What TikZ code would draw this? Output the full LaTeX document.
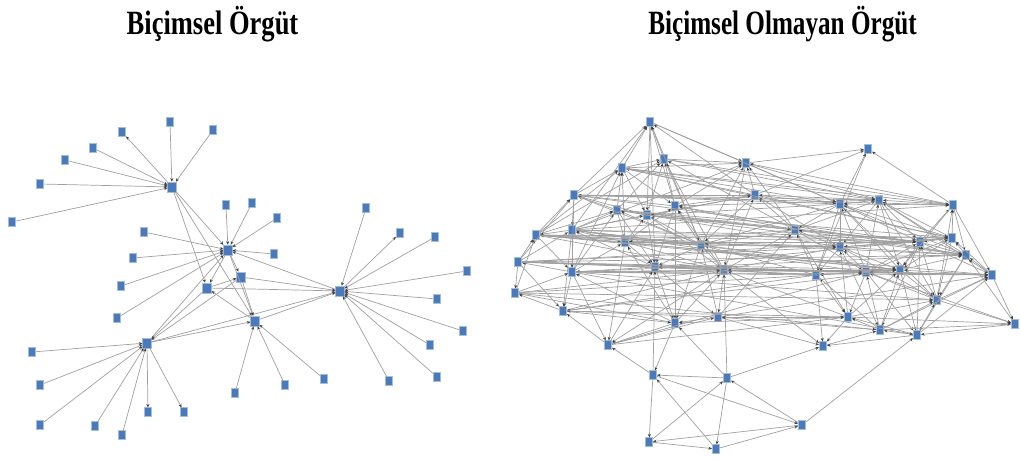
\documentclass[tikz,border=0pt]{standalone}
\usepackage{fontspec}
\setmainfont{Liberation Serif}
\usepackage{graphicx}
\usetikzlibrary{arrows.meta}
\definecolor{nodeblue}{RGB}{74,122,186}
\definecolor{edgegray}{RGB}{160,160,160}
\begin{document}
\begin{tikzpicture}[x=1pt,y=-1pt,
  nd/.style={rectangle, fill=nodeblue, draw=nodeblue!50!white, line width=0.6pt, minimum width=7.5pt, minimum height=8.5pt, inner sep=0pt},
  hub/.style={nd, minimum width=8.5pt, minimum height=10pt},
  edge/.style={draw=edgegray, line width=0.7pt, -{Stealth[length=3.5pt,width=3pt,color=black!75]}},
  ttl/.style={font=\fontsize{34}{38}\selectfont\bfseries, anchor=base, inner sep=0pt}]
\useasboundingbox (0,0) rectangle (1021,462);
% titles
\node[ttl] (t1) at (212.5,35) {\scalebox{0.78}[1]{Biçimsel Örgüt}};
\node[ttl] (t2) at (782.5,35) {\scalebox{0.74}[1]{Biçimsel Olmayan Örgüt}};
% ---------------- left graph ----------------
\foreach \n/\x/\y in {A/172/187,B/228/250,C/147/343,D/207/288,E/241/277,F/255/321,G/340/291}
  \node[hub] (\n) at (\x,\y) {};
\foreach \n/\x/\y in {a1/12/222,a2/40/184,a3/65/160,a4/93/148,a5/122/132,a6/170/122,a7/213/130,
  b1/226/205,b2/252/203,b3/277/218,b4/274/254,b5/144/232,b6/133/258,b7/121/286,b8/117/318,
  c1/32/352,c2/40/385,c3/40/425,c4/95/426,c5/122/435,c6/148/412,c7/184/412,
  f1/235/393,f2/285/385,f3/324/379,
  g1/366/208,g2/400/233,g3/435/237,g4/467/271,g5/437/299,g6/463/331,g7/430/345,g8/437/377,g9/389/381}
  \node[nd] (\n) at (\x,\y) {};
\foreach \a/\b in {a1/A,a2/A,a3/A,a4/A,A/a5,a6/A,a7/A,
  b1/B,b2/B,b3/B,b4/B,b5/B,b6/B,b7/B,b8/B,
  c1/C,c2/C,c3/C,c4/C,c5/C,C/c6,C/c7,
  f1/F,f2/F,f3/F,
  g1/G,G/g2,g3/G,g4/G,g5/G,g6/G,g7/G,g8/G,g9/G,
  A/B,A/D,A/F,B/D,B/E,B/F,G/B,C/B,D/C,E/C,C/F,C/G,D/E,D/G,F/D,E/G,F/G,E/F}
  \draw[edge] (\a) -- (\b);
% ---------------- right graph ----------------
\foreach \n/\x/\y in {1/650/122,2/664/159,3/746/163,4/622/168,5/868/149,6/574/195,7/755/195,8/617/210,
  9/647/215,10/675/206,11/536/235,12/572/230,13/625/242,14/701/245,15/795/230,16/840/204,
  17/879/200,18/953/205,19/840/247,20/920/242,21/952/238,22/966/255,23/518/262,24/572/272,
  25/655/267,26/724/270,27/816/275,28/866/272,29/900/270,30/992/275,31/515/293,32/563/311,
  33/675/323,34/718/317,35/937/300,36/848/317,37/880/330,38/917/335,39/1015/324,40/608/345,
  41/823/346,42/653/375,43/727/378,44/802/425,45/649/442,46/716/449}
  \node[nd] (r\n) at (\x,\y) {};
\foreach \a/\b in {2/1,1/3,4/1,6/1,1/9,10/1,7/1,1/25,14/1,12/1,
  4/2,2/3,10/2,9/2,2/14,26/2,8/2,15/2,11/2,
  3/5,7/3,15/3,3/17,18/3,10/3,3/26,14/3,4/3,12/3,
  6/4,8/4,4/9,13/4,24/4,4/10,7/4,16/4,11/4,
  18/5,5/27,7/5,16/5,
  11/6,6/12,8/6,23/6,6/24,10/6,6/7,16/6,9/6,6/14,
  15/7,7/16,17/7,10/7,7/14,26/7,12/7,19/7,9/7,7/21,
  9/8,12/8,8/13,24/8,8/25,14/8,8/15,19/8,11/8,
  13/9,9/25,14/9,9/26,15/9,16/9,12/9,9/20,
  14/10,10/25,26/10,10/15,17/10,13/10,10/33,22/10,
  12/11,23/11,11/24,31/11,11/13,14/11,11/21,19/11,29/11,11/26,
  13/12,12/24,23/12,25/12,12/32,14/12,12/20,28/12,
  24/13,13/25,14/13,33/13,13/26,15/13,19/13,13/40,
  26/14,14/25,15/14,14/19,27/14,14/33,34/14,14/29,16/14,
  16/15,15/19,27/15,15/26,20/15,15/17,34/15,15/28,22/15,15/36,
  17/16,16/19,18/16,16/20,28/16,16/27,29/16,16/21,22/16,16/35,
  18/17,17/20,21/17,17/19,28/17,17/29,22/17,17/35,30/17,
  21/18,18/22,20/18,18/30,35/18,18/29,
  20/19,19/27,28/19,19/29,21/19,36/19,19/37,26/19,35/19,19/22,
  21/20,20/22,28/20,20/29,35/20,20/37,38/20,20/30,
  22/21,21/29,30/21,21/35,28/21,
  30/22,22/35,29/22,22/38,39/22,
  24/23,23/31,25/23,23/32,29/23,23/26,
  25/24,31/24,24/32,26/24,24/40,33/24,24/27,30/24,
  26/25,25/33,42/25,25/34,27/25,25/28,21/25,40/25,
  27/26,26/34,33/26,26/40,36/26,28/26,26/29,43/26,26/41,30/26,32/26,
  28/27,27/36,29/27,27/41,37/27,
  29/28,28/36,37/28,28/38,35/28,30/28,
  30/29,29/35,37/29,29/38,36/29,
  35/30,30/39,38/30,37/30,
  32/31,31/26,33/31,
  40/32,32/33,34/32,27/32,
  33/42,43/33,33/40,34/33,36/33,
  36/34,34/41,37/34,34/30,
  38/35,35/39,37/35,36/35,
  37/36,38/36,36/41,
  38/37,41/37,37/39,
  39/38,38/41,
  42/40,40/34,
  43/42,42/45,46/42,42/44,
  45/43,43/46,44/43,43/41,
  44/45,46/44,44/38,
  45/46,
  11/22,11/30,23/30,23/22,12/21,6/18,4/18,13/20,23/28,24/29,31/28,12/29,6/17,4/17,8/20,24/22,
  13/29,36/39,28/39,11/20,12/18,8/21,23/21,31/35,24/38,32/29,32/36,31/37,40/36,40/28,
  6/20,4/21,24/35,23/19,25/30,9/22,2/17,2/18,1/16,3/16}
  \draw[edge] (r\a) -- (r\b);
\end{tikzpicture}
\end{document}
